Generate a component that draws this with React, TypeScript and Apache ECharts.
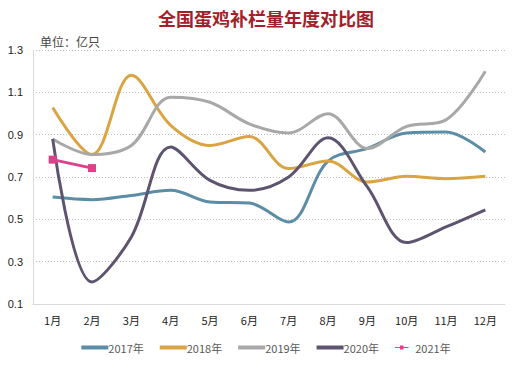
import React, { useEffect, useRef } from "react";
import * as echarts from "echarts";

const months = ["1月", "2月", "3月", "4月", "5月", "6月", "7月", "8月", "9月", "10月", "11月", "12月"];
const yTicks = [0.1, 0.3, 0.5, 0.7, 0.9, 1.1, 1.3];
const s2017 = [0.605, 0.593, 0.613, 0.637, 0.582, 0.577, 0.487, 0.775, 0.835, 0.908, 0.913, 0.818];
const s2018 = [1.028, 0.806, 1.181, 0.944, 0.849, 0.891, 0.74, 0.776, 0.676, 0.703, 0.692, 0.703];
const s2019 = [0.88, 0.806, 0.849, 1.077, 1.053, 0.951, 0.908, 0.999, 0.835, 0.939, 0.97, 1.2];
const s2020 = [0.88, 0.204, 0.417, 0.842, 0.684, 0.637, 0.7, 0.885, 0.653, 0.39, 0.464, 0.545];
const s2021 = [0.782, 0.742];
const names = ["2017年", "2018年", "2019年", "2020年", "2021年"];
const colors = ["#5b8ea6", "#d9a441", "#a8a8a8", "#5f5470", "#e0408a"];

export default function App() {
  const ref = useRef<HTMLDivElement>(null);
  useEffect(() => {
    if (!ref.current) return;
    const chart = echarts.init(ref.current, null, { renderer: "svg" });
    const data = [s2017, s2018, s2019, s2020, s2021];
    chart.setOption({
      animation: false,
      backgroundColor: "#ffffff",
      title: {
        text: "全国蛋鸡补栏量年度对比图",
        left: "center",
        top: 4,
        textStyle: {
          color: "#a3202a",
          fontSize: 18,
          fontWeight: "bold",
          fontFamily: "Noto Sans CJK SC",
        },
      },
      graphic: [
        {
          type: "text",
          left: 40,
          top: 35,
          style: { text: "单位：亿只", fill: "#444", fontSize: 12, fontFamily: "Noto Sans CJK SC" },
        },
      ],
      legend: {
        bottom: 10,
        left: "center",
        itemWidth: 27,
        itemHeight: 4,
        itemGap: 16,
        textStyle: { color: "#595959", fontSize: 11, fontFamily: "Noto Sans CJK SC", padding: [0, 0, 0, -5] },
        data: names.map((n, i) => ({ name: n, icon: i === 4 ? "path://M0,4H27V6H0Z M10,1H17V9H10Z" : "rect" })),
      },
      grid: { left: 33, right: 27, top: 50, bottom: 64 },
      xAxis: {
        type: "category",
        data: months,
        boundaryGap: true,
        axisLine: { lineStyle: { color: "#d9d9d9", width: 1 } },
        axisTick: { show: false },
        axisLabel: { color: "#222", fontSize: 11, margin: 10, fontFamily: "Noto Sans CJK SC" },
      },
      yAxis: {
        type: "value",
        min: 0.1,
        max: 1.3,
        interval: 0.2,
        axisLine: { show: true, lineStyle: { color: "#d9d9d9" } },
        axisTick: { show: false },
        axisLabel: {
          color: "#222",
          fontSize: 11,
          margin: 10,
          formatter: (v: number) => {
            const t = yTicks.find((x) => Math.abs(x - v) < 1e-6);
            return t !== undefined ? String(t) : "";
          },
        },
        splitLine: { lineStyle: { color: "#bfbfbf", type: [1, 2], width: 1 } },
      },
      series: data.map((d, i) => ({
        name: names[i],
        type: "line",
        data: d,
        smooth: i === 4 ? false : 0.35,
        showSymbol: i === 4,
        symbol: "rect",
        symbolSize: 8,
        lineStyle: { color: colors[i], width: 3 },
        itemStyle: { color: colors[i] },
      })),
    });
    return () => chart.dispose();
  }, []);
  return <div ref={ref} style={{ position: "fixed", left: 0, top: 0, width: 532, height: 368 }} />;
}
